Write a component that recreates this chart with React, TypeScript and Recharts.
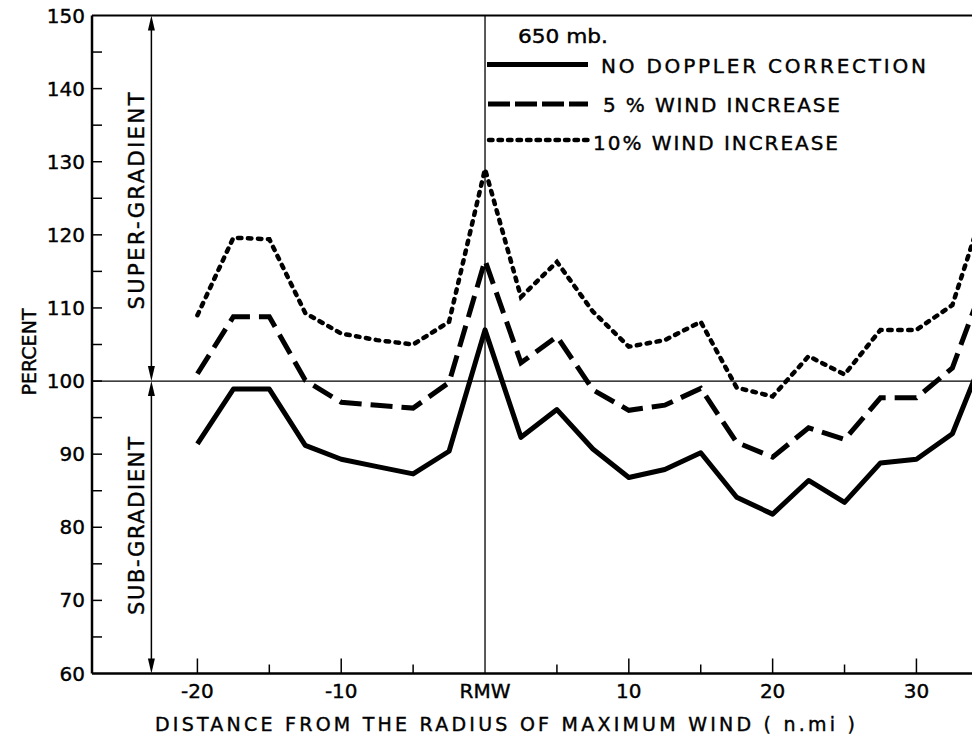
import React from "react";
import { LineChart, Line, XAxis, YAxis, ReferenceLine } from "recharts";

// Distance from the radius of maximum wind (n.mi)
const distances = [-20, -17.5, -15, -12.5, -10, -7.5, -5, -2.5, 0, 2.5, 5, 7.5, 10, 12.5, 15, 17.5, 20, 22.5, 25, 27.5, 30, 32.5, 35];
const noDoppler = [91.4, 98.9, 98.9, 91.2, 89.3, 88.3, 87.3, 90.4, 107.0, 92.3, 96.1, 90.7, 86.8, 87.9, 90.2, 84.1, 81.8, 86.4, 83.4, 88.8, 89.3, 92.8, 105.0];
const wind5 = [101.0, 108.8, 108.8, 100.1, 97.1, 96.7, 96.3, 99.8, 116.5, 102.5, 106.1, 98.8, 96.0, 96.7, 99.0, 91.6, 89.6, 93.6, 92.0, 97.7, 97.7, 101.8, 115.1];
const wind10 = [109.0, 119.6, 119.4, 109.3, 106.5, 105.6, 105.0, 108.1, 129.0, 111.5, 116.3, 109.5, 104.7, 105.6, 108.1, 99.1, 97.9, 103.4, 100.9, 107.0, 107.0, 110.4, 125.6];

const xTicks = [-20, -15, -10, -5, 0, 5, 10, 15, 20, 25, 30];
const xTickLabels: Record<string, string> = { "-20": "-20", "-10": "-10", "0": "RMW", "10": "10", "20": "20", "30": "30" };
const yTicks = [60, 65, 70, 75, 80, 85, 90, 95, 100, 105, 110, 115, 120, 125, 130, 135, 140, 145, 150];
const yTickLabels: Record<string, string> = { "60": "60", "70": "70", "80": "80", "90": "90", "100": "100", "110": "110", "120": "120", "130": "130", "140": "140", "150": "150" };

const seriesNames = ["NO DOPPLER CORRECTION", "5 % WIND INCREASE", "10% WIND INCREASE"];
const levelLabel = "650 mb.";
const xTitle = "DISTANCE  FROM  THE  RADIUS  OF  MAXIMUM  WIND  ( n.mi )";
const yTitle = "PERCENT";
const superLabel = "SUPER-GRADIENT";
const subLabel = "SUB-GRADIENT";
const arrowX = -23.2;

const data = distances.map((d, i) => ({ d, a: noDoppler[i], b: wind5[i], c: wind10[i] }));

const FONT = "'DejaVu Sans', sans-serif";

const XTick = (props: any) => {
  const { x, y, payload } = props;
  const v = payload.value;
  const label = xTickLabels[String(v)];
  const major = label !== undefined;
  return (
    <g>
      {v !== 0 && <line x1={x} x2={x} y1={y} y2={y - (major ? 15 : 9)} stroke="#000" strokeWidth={1.5} />}
      {major && (
        <text x={x} y={y + 24} textAnchor="middle" fontFamily={FONT} fontSize={20} fill="#000" stroke="#000" strokeWidth={0.4}>
          {label}
        </text>
      )}
    </g>
  );
};

const YTick = (props: any) => {
  const { x, y, payload } = props;
  const v = payload.value;
  const label = yTickLabels[String(v)];
  return (
    <g>
      {v !== 60 && v !== 150 && <line x1={x} x2={x + 10} y1={y} y2={y} stroke="#000" strokeWidth={1.5} />}
      {label && (
        <text x={x - 7} y={y + 7} textAnchor="end" fontFamily={FONT} fontSize={20} fill="#000" stroke="#000" strokeWidth={0.4}>
          {label}
        </text>
      )}
    </g>
  );
};

const ArrowShape = (props: any) => {
  const { x1, y1, x2, y2 } = props;
  const top = Math.min(y1, y2);
  const bot = Math.max(y1, y2);
  const x = x1;
  return (
    <g>
      <line x1={x} x2={x2} y1={top + 8} y2={bot - 8} stroke="#000" strokeWidth={1.5} />
      <polygon points={`${x},${top} ${x - 3.5},${top + 15} ${x + 3.5},${top + 15}`} fill="#000" />
      <polygon points={`${x},${bot} ${x - 3.5},${bot - 15} ${x + 3.5},${bot - 15}`} fill="#000" />
    </g>
  );
};

export default function App() {
  return (
    <div style={{ position: "relative", width: 972, height: 732, background: "#fff" }}>
      <style>{"html,body{overflow:hidden;}"}</style>
      <LineChart width={972} height={732} data={data} margin={{ top: 7.5, right: 0, bottom: 0, left: 0 }}>
        <XAxis
          dataKey="d"
          type="number"
          domain={[-27.33, 34.42]}
          allowDataOverflow
          ticks={xTicks}
          interval={0}
          height={66.5}
          tickSize={0}
          tickMargin={0}
          tickLine={false}
          axisLine={{ stroke: "#000", strokeWidth: 2.5 }}
          tick={XTick}
        />
        <YAxis
          type="number"
          domain={[60, 150]}
          allowDataOverflow
          ticks={yTicks}
          interval={0}
          width={84}
          tickSize={0}
          tickMargin={0}
          tickLine={false}
          axisLine={{ stroke: "#000", strokeWidth: 2.5 }}
          tick={YTick}
        />
        <ReferenceLine y={150} stroke="#000" strokeWidth={2} />
        <ReferenceLine y={100} stroke="#000" strokeWidth={1.3} />
        <ReferenceLine x={0} stroke="#000" strokeWidth={1.3} />
        <ReferenceLine segment={[{ x: arrowX, y: 150 }, { x: arrowX, y: 100 }]} shape={ArrowShape} />
        <ReferenceLine segment={[{ x: arrowX, y: 100 }, { x: arrowX, y: 60 }]} shape={ArrowShape} />
        <Line type="linear" dataKey="a" stroke="#000" strokeWidth={5} dot={false} strokeLinejoin="round" isAnimationActive={false} />
        <Line type="linear" dataKey="b" stroke="#000" strokeWidth={5} strokeDasharray="22 9" dot={false} isAnimationActive={false} />
        <Line type="linear" dataKey="c" stroke="#000" strokeWidth={4.5} strokeDasharray="3.5 6.5" strokeLinecap="round" dot={false} isAnimationActive={false} />
      </LineChart>
      <svg width={972} height={732} style={{ position: "absolute", left: 0, top: 0, pointerEvents: "none" }}>
        <g fontFamily={FONT} fill="#000" stroke="#000" strokeWidth={0.4}>
          <text x={510} y={35} fontSize={19} textLength={90} lengthAdjust="spacingAndGlyphs">{levelLabel}</text>
          <line x1={479} x2={580} y1={56.5} y2={56.5} stroke="#000" strokeWidth={5} />
          <text x={593} y={65} fontSize={20} textLength={325} lengthAdjust="spacing">{seriesNames[0]}</text>
          <line x1={480} x2={580} y1={96} y2={96} stroke="#000" strokeWidth={5} strokeDasharray="22 5" />
          <text x={595} y={104} fontSize={20} textLength={237} lengthAdjust="spacing">{seriesNames[1]}</text>
          <line x1={481} x2={582} y1={132} y2={132} stroke="#000" strokeWidth={4.5} strokeDasharray="3.5 6" strokeLinecap="round" />
          <text x={585} y={142} fontSize={20} textLength={245} lengthAdjust="spacing">{seriesNames[2]}</text>
          <text x={497} y={723} fontSize={19} textAnchor="middle" textLength={700} lengthAdjust="spacing">{xTitle}</text>
          <text transform="translate(21,344) rotate(-90)" fontSize={19} textAnchor="middle" dominantBaseline="central" textLength={87} lengthAdjust="spacing">{yTitle}</text>
          <text transform="translate(129,193) rotate(-90)" fontSize={21} textAnchor="middle" dominantBaseline="central" textLength={217} lengthAdjust="spacing">{superLabel}</text>
          <text transform="translate(129,518) rotate(-90)" fontSize={21} textAnchor="middle" dominantBaseline="central" textLength={178} lengthAdjust="spacing">{subLabel}</text>
        </g>
      </svg>
    </div>
  );
}
